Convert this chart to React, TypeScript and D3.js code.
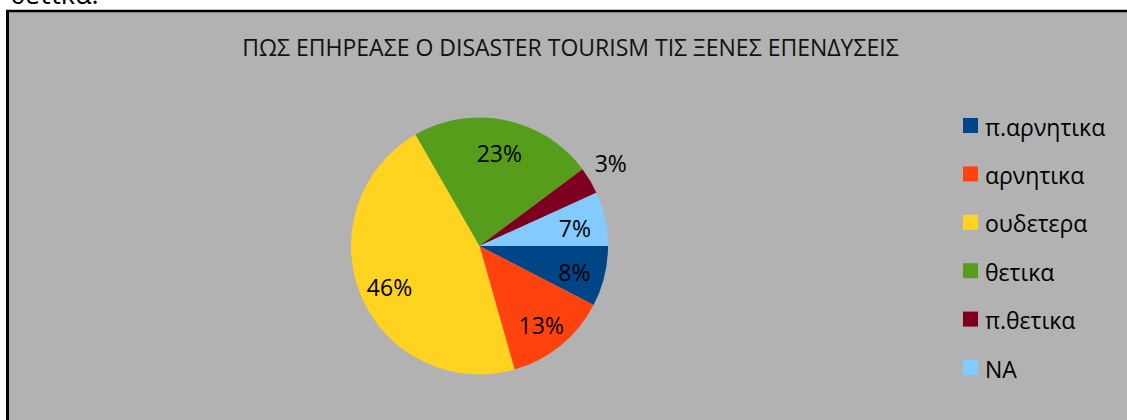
import React from "react";
import * as d3 from "d3";

const title = "ΠΩΣ ΕΠΗΡΕΑΣΕ Ο DISASTER TOURISM ΤΙΣ ΞΕΝΕΣ ΕΠΕΝΔΥΣΕΙΣ";
const categories = ["π.αρνητικα", "αρνητικα", "ουδετερα", "θετικα", "π.θετικα", "NA"];
const values = [7.6, 13.0, 46.1, 23.1, 3.4, 6.8];
const colors = ["#004586", "#ff420e", "#ffd320", "#579d1c", "#7e0021", "#83caff"];
const aboveText = "θετικα.";

const W = 1127;
const H = 420;
const FONT = "'Open Sans', 'Noto Sans', sans-serif";

export default function App() {
  const cx = 479.5;
  const cy = 246;
  const R = 128.5;
  const total = d3.sum(values);
  const pie = d3
    .pie<number>()
    .sort(null)
    .startAngle(Math.PI / 2)
    .endAngle(Math.PI / 2 + 2 * Math.PI);
  const arcs = pie(values);
  const arc = d3.arc<d3.PieArcDatum<number>>().innerRadius(0).outerRadius(R);
  const legendY = d3
    .scalePoint<string>()
    .domain(categories)
    .range([125.5, 367.5]);

  return (
    <svg
      width={W}
      height={H}
      style={{ position: "absolute", left: 0, top: 0, display: "block" }}
      fontFamily={FONT}
    >
      <rect x={0} y={0} width={W} height={H} fill="#ffffff" />
      <text x={10} y={4} fontSize={27} fill="#000">
        {aboveText}
      </text>
      <rect x={6} y={10} width={W} height={H} fill="#b2b2b2" />
      <line x1={6} y1={11} x2={W} y2={11} stroke="#000" strokeWidth={2.5} />
      <line x1={7.5} y1={10} x2={7.5} y2={H} stroke="#000" strokeWidth={3} />
      <text x={570.5} y={56} textAnchor="middle" fontSize={23} fill="#111">
        {title}
      </text>
      <g transform={`translate(${cx},${cy})`}>
        {arcs.map((a, i) => (
          <path key={i} d={arc(a) || ""} fill={colors[i]} />
        ))}
        {arcs.map((a, i) => {
          const mid = (a.startAngle + a.endAngle) / 2;
          const frac = a.value / total;
          const outside = frac < 0.05;
          const r = outside ? R + 24 : R * 0.76;
          const x = Math.sin(mid) * r;
          const y = -Math.cos(mid) * r + (outside ? -5 : 3);
          return (
            <text
              key={"l" + i}
              x={x}
              y={y}
              textAnchor="middle"
              dominantBaseline="central"
              fontSize={23}
              fill="#000"
            >
              {Math.round(frac * 100) + "%"}
            </text>
          );
        })}
      </g>
      {categories.map((c, i) => (
        <g key={c} transform={`translate(963,${legendY(c)})`}>
          <rect x={0} y={-7.5} width={15} height={15} fill={colors[i]} />
          <text x={22} y={1} dominantBaseline="central" fontSize={23} fill="#000">
            {c}
          </text>
        </g>
      ))}
    </svg>
  );
}
